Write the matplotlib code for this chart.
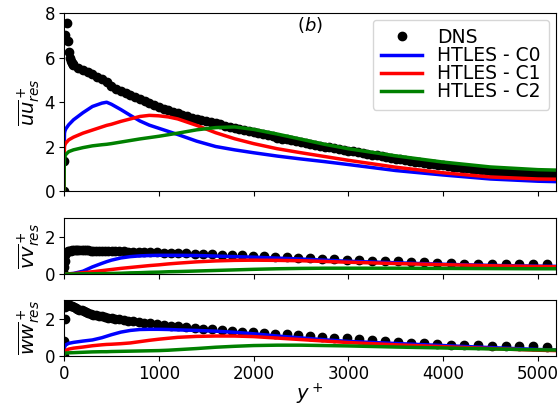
import matplotlib
matplotlib.use("Agg")
import matplotlib.pyplot as plt

# ---------------- data ----------------
# DNS, dense sampling (top panel)
dns_y_full = [0, 3, 15, 28, 42, 56, 63, 70, 80, 90,
              100, 150, 200, 250, 300, 350, 400, 450, 500, 550, 600, 650, 700, 750, 800,
              850, 900, 950, 1000, 1050, 1100, 1150, 1200, 1250, 1300, 1350, 1400, 1450,
              1500, 1550, 1600, 1650, 1700, 1750, 1800, 1850, 1900, 1950, 2000, 2050,
              2100, 2150, 2200, 2250, 2300, 2350, 2400, 2450, 2500, 2550, 2600, 2650,
              2700, 2750, 2800, 2850, 2900, 2950, 3000, 3050, 3100, 3150, 3200, 3250,
              3300, 3350, 3400, 3450, 3500, 3550, 3600, 3650, 3700, 3750, 3800, 3850,
              3900, 3950, 4000, 4050, 4100, 4150, 4200, 4250, 4300, 4350, 4400, 4450,
              4500, 4550, 4600, 4650, 4700, 4750, 4800, 4850, 4900, 4950, 5000, 5050,
              5100, 5150]
dns_uu = [0.0, 1.35, 7.0, 7.55, 6.75, 6.25, 5.97, 5.85, 5.75, 5.7,
          5.66, 5.55, 5.45, 5.35, 5.25, 5.13, 5.02, 4.88, 4.74, 4.59, 4.48, 4.39, 4.30, 4.21, 4.12,
          4.04, 3.95, 3.87, 3.79, 3.70, 3.62, 3.55, 3.49, 3.43, 3.36, 3.30, 3.23, 3.18,
          3.13, 3.09, 3.05, 2.99, 2.93, 2.87, 2.81, 2.77, 2.72, 2.68, 2.64, 2.60,
          2.55, 2.51, 2.46, 2.40, 2.36, 2.32, 2.28, 2.24, 2.20, 2.16, 2.12, 2.07,
          2.03, 2.00, 1.96, 1.92, 1.88, 1.85, 1.82, 1.78, 1.74, 1.71, 1.67, 1.64,
          1.60, 1.57, 1.53, 1.50, 1.46, 1.42, 1.39, 1.35, 1.32, 1.29, 1.26, 1.23,
          1.21, 1.18, 1.15, 1.12, 1.10, 1.07, 1.05, 1.02, 1.00, 0.97, 0.95, 0.93,
          0.91, 0.89, 0.87, 0.85, 0.84, 0.83, 0.82, 0.81, 0.80, 0.79, 0.78, 0.77,
          0.76, 0.76]

# DNS, sparse sampling (vv and ww panels)
dns_y_sparse = [0, 3, 8, 15, 25, 40, 55, 70, 85, 103, 122, 142, 163, 185, 208, 232, 257,
                283, 310, 338, 368, 399, 432, 467, 504, 543, 585, 630, 678, 730, 786, 846,
                910, 978, 1050, 1126, 1206, 1290, 1378, 1470, 1566, 1666, 1770, 1878, 1990,
                2105, 2226, 2349, 2472, 2595, 2725, 2852, 2982, 3115, 3249, 3386, 3527, 3661,
                3801, 3938, 4082, 4223, 4371, 4518, 4662, 4803, 4951, 5092]
dns_vv = [0.0, 0.35, 0.7, 1.0, 1.15, 1.21, 1.24, 1.25, 1.26, 1.26, 1.26, 1.26, 1.26, 1.26,
          1.26, 1.26, 1.26, 1.25, 1.25, 1.25, 1.24, 1.24, 1.23, 1.23, 1.22, 1.22, 1.21, 1.21,
          1.20, 1.20, 1.19, 1.18, 1.17, 1.16, 1.15, 1.14, 1.12, 1.11, 1.09, 1.08, 1.06, 1.04,
          1.02, 1.00, 0.98, 0.95, 0.92, 0.89, 0.86, 0.84, 0.81, 0.79, 0.77, 0.74, 0.72, 0.69,
          0.67, 0.64, 0.62, 0.60, 0.58, 0.56, 0.55, 0.54, 0.53, 0.52, 0.52, 0.52]
dns_ww = [0.0, 0.8, 2.0, 2.6, 2.76, 2.76, 2.72, 2.70, 2.66, 2.62, 2.57, 2.53, 2.49, 2.45,
          2.41, 2.36, 2.31, 2.26, 2.22, 2.18, 2.15, 2.12, 2.09, 2.06, 2.03, 2.00, 1.97, 1.94,
          1.90, 1.87, 1.83, 1.79, 1.75, 1.71, 1.67, 1.63, 1.59, 1.55, 1.51, 1.47, 1.43, 1.39,
          1.35, 1.31, 1.28, 1.24, 1.20, 1.16, 1.12, 1.08, 1.04, 0.99, 0.95, 0.91, 0.86, 0.81,
          0.76, 0.71, 0.67, 0.64, 0.61, 0.59, 0.57, 0.55, 0.53, 0.52, 0.51, 0.50]

# HTLES curves
les_y = [0, 2, 5, 10, 20, 50, 100, 200, 300, 400, 450, 500, 600, 700, 800, 900, 1000, 1100,
         1200, 1400, 1600, 1800, 2000, 2250, 2500, 2750, 3000, 3500, 4000, 4500, 5000, 5190]

uu_c0 = [0, 1.7, 2.6, 2.7, 2.8, 2.98, 3.2, 3.52, 3.8, 3.95, 3.99, 3.9, 3.66, 3.4, 3.15, 2.96,
         2.82, 2.68, 2.54, 2.24, 2.0, 1.85, 1.72, 1.57, 1.44, 1.32, 1.19, 0.92, 0.72, 0.54,
         0.44, 0.42]
uu_c1 = [0, 1.4, 2.0, 2.08, 2.16, 2.3, 2.42, 2.6, 2.74, 2.88, 2.95, 3.0, 3.13, 3.24, 3.35,
         3.4, 3.38, 3.33, 3.24, 2.95, 2.62, 2.35, 2.13, 1.9, 1.72, 1.55, 1.38, 1.07, 0.82,
         0.63, 0.54, 0.53]
uu_c2 = [0, 1.0, 1.45, 1.55, 1.65, 1.77, 1.85, 1.95, 2.03, 2.08, 2.1, 2.13, 2.2, 2.27, 2.34,
         2.4, 2.46, 2.53, 2.6, 2.75, 2.85, 2.88, 2.77, 2.56, 2.33, 2.1, 1.9, 1.58, 1.3, 1.08,
         0.96, 0.94]

vv_c0 = [0, 0, 0, 0, 0, 0.01, 0.03, 0.15, 0.38, 0.57, 0.66, 0.74, 0.86, 0.93, 0.97, 0.99,
         1.0, 1.0, 1.0, 0.99, 0.96, 0.93, 0.9, 0.85, 0.8, 0.74, 0.68, 0.6, 0.52, 0.46, 0.42,
         0.41]
vv_c1 = [0, 0, 0, 0, 0, 0.01, 0.02, 0.07, 0.12, 0.18, 0.21, 0.24, 0.3, 0.35, 0.4, 0.45,
         0.49, 0.54, 0.58, 0.65, 0.7, 0.73, 0.74, 0.73, 0.71, 0.67, 0.63, 0.56, 0.5, 0.44,
         0.4, 0.39]
vv_c2 = [0, 0, 0, 0, 0, 0, 0, 0.01, 0.01, 0.02, 0.02, 0.03, 0.04, 0.06, 0.07, 0.09, 0.1,
         0.12, 0.13, 0.16, 0.19, 0.22, 0.25, 0.28, 0.3, 0.31, 0.31, 0.31, 0.3, 0.29, 0.28,
         0.28]

ww_c0 = [0, 0.3, 0.45, 0.52, 0.6, 0.68, 0.73, 0.8, 0.86, 0.98, 1.06, 1.14, 1.28, 1.37, 1.42,
         1.43, 1.43, 1.42, 1.4, 1.37, 1.33, 1.27, 1.19, 1.07, 0.97, 0.87, 0.78, 0.67, 0.56,
         0.45, 0.35, 0.32]
ww_c1 = [0, 0.15, 0.22, 0.26, 0.3, 0.37, 0.42, 0.48, 0.55, 0.6, 0.62, 0.63, 0.66, 0.7, 0.77,
         0.84, 0.9, 0.95, 1.0, 1.05, 1.07, 1.07, 1.04, 0.96, 0.88, 0.8, 0.72, 0.6, 0.5, 0.4,
         0.31, 0.29]
ww_c2 = [0, 0.08, 0.12, 0.14, 0.16, 0.17, 0.18, 0.2, 0.22, 0.23, 0.23, 0.24, 0.25, 0.26, 0.27,
         0.28, 0.29, 0.31, 0.34, 0.4, 0.47, 0.52, 0.56, 0.58, 0.58, 0.56, 0.54, 0.48, 0.43,
         0.38, 0.33, 0.32]

labels = ["DNS", "HTLES - C0", "HTLES - C1", "HTLES - C2"]
colors = ["blue", "red", "green"]

# ---------------- figure ----------------
plt.rcParams['font.family'] = ['DejaVu Sans']
plt.rcParams['font.size'] = 12
plt.rcParams['mathtext.fontset'] = 'dejavusans'

fig = plt.figure(figsize=(5.59, 4.07), dpi=100)
L, W = 0.1145, 0.880
ax1 = fig.add_axes([L, 0.5307, W, 0.4373])
ax2 = fig.add_axes([L, 0.3268, W, 0.1376])
ax3 = fig.add_axes([L, 0.1253, W, 0.1376])

ms = 6
lw = 2.5

ax1.plot(dns_y_full, dns_uu, 'o', color='black', ms=ms, label=labels[0])
for vals, c, lab in zip([uu_c0, uu_c1, uu_c2], colors, labels[1:]):
    ax1.plot(les_y, vals, '-', color=c, lw=lw, label=lab)

ax2.plot(dns_y_sparse, dns_vv, 'o', color='black', ms=ms)
for vals, c in zip([vv_c0, vv_c1, vv_c2], colors):
    ax2.plot(les_y, vals, '-', color=c, lw=lw)

ax3.plot(dns_y_sparse, dns_ww, 'o', color='black', ms=ms)
for vals, c in zip([ww_c0, ww_c1, ww_c2], colors):
    ax3.plot(les_y, vals, '-', color=c, lw=lw)

for ax in (ax1, ax2, ax3):
    ax.set_xlim(0, 5190)
    ax.set_xticks([0, 1000, 2000, 3000, 4000, 5000])
    ax.tick_params(pad=3)
ax1.set_ylim(0, 8)
ax1.set_yticks([0, 2, 4, 6, 8])
ax2.set_ylim(0, 3)
ax2.set_yticks([0, 2])
ax3.set_ylim(0, 3)
ax3.set_yticks([0, 2])
ax1.tick_params(labelbottom=False)
ax2.tick_params(labelbottom=False)

ax1.set_ylabel(r'$\overline{uu}^+_{res}$', fontsize=14, labelpad=2)
ax2.set_ylabel(r'$\overline{vv}^+_{res}$', fontsize=14, labelpad=2)
ax3.set_ylabel(r'$\overline{ww}^+_{res}$', fontsize=14, labelpad=2)
ax3.set_xlabel(r'$y^+$', fontsize=14, labelpad=-1)

ax1.text(0.5, 0.93, r'$(b)$', transform=ax1.transAxes, ha='center', va='center', fontsize=13)
ax1.legend(loc='upper right', fontsize=13.5, handlelength=2.2, borderaxespad=0.35,
           labelspacing=-0.05, borderpad=0.45, handletextpad=0.8)

fig.savefig('out.png', dpi=100)
